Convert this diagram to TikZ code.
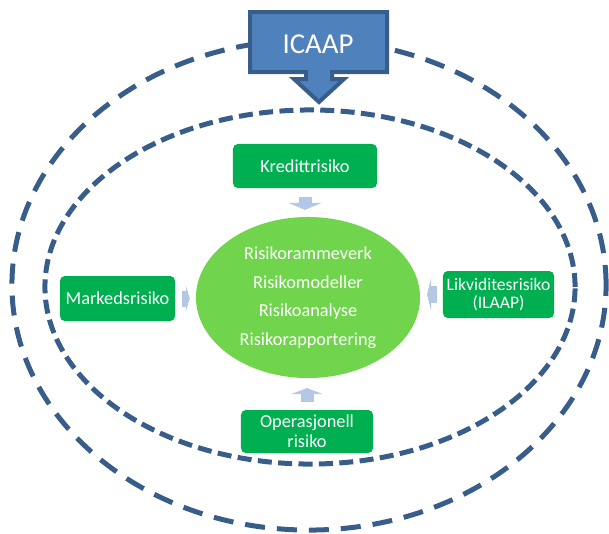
\documentclass[tikz,border=0pt]{standalone}
\usepackage{fontspec}
\setmainfont{Carlito}
\usepackage{tikz}
\usetikzlibrary{shapes.geometric, arrows.meta}

\definecolor{ringblue}{RGB}{56,93,138}
\definecolor{capfill}{RGB}{79,129,189}
\definecolor{riskgreen}{RGB}{0,176,80}
\definecolor{coregreen}{RGB}{112,212,76}
\definecolor{hintblue}{RGB}{180,199,231}

\tikzset{
	ringdash/.style={draw=ringblue, line width=0.125cm},
	riskbox/.style={fill=riskgreen, rounded corners=0.12cm, text=white, align=center,
		inner sep=0pt, font=\fontsize{13}{14}\selectfont},
	coreoval/.style={ellipse, fill=coregreen, text=white, align=center, inner sep=0pt,
		minimum width=5.6cm, minimum height=4.025cm, font=\fontsize{13}{20.3}\selectfont},
	hintarrow/.style={draw=hintblue, line width=#1},
}

\begin{document}
\begin{tikzpicture}[x=0.025cm, y=-0.025cm]
		\useasboundingbox (0,0) rectangle (609,533);
		
		% Dashed rings
		\draw[ringdash, dash pattern=on 0.5cm off 0.3cm] (309,285) ellipse [x radius=7.425cm, y radius=6.125cm];
		\draw[ringdash, dash pattern=on 0.35cm off 0.16cm] (310,287) ellipse [x radius=6.625cm, y radius=4.425cm];
		
		% ICAAP callout
		\draw[draw=ringblue, fill=capfill, line width=0.1cm, line join=miter]
			(250,12) -- (387,12) -- (387,72) -- (332,72) -- (332,79) -- (344,79) -- (319,102)
			-- (294,79) -- (306,79) -- (306,72) -- (250,72) -- cycle;
		\node[text=white, font=\fontsize{20.5}{24}\selectfont] (icaap) at (318,44) {ICAAP};
		
		% Core
		\node[coreoval] (core) at (308,297.5) {Risikorammeverk\\ Risikomodeller\\ Risikoanalyse\\ Risikorapportering};
		
		% Risk types
		\node[riskbox, minimum width=3.6cm, minimum height=1.1cm] (kreditt) at (305,166) {Kredittrisiko};
		\node[riskbox, minimum width=2.875cm, minimum height=1.125cm] (markeds) at (117.5,298.5) {Markedsrisiko};
		\node[riskbox, minimum width=2.775cm, minimum height=1.175cm, font=\fontsize{12.5}{12.8}\selectfont] (likvid) at (498.5,294.5) {Likviditesrisiko\\ (ILAAP)};
		\node[riskbox, minimum width=3.3cm, minimum height=1.075cm] (operasjonell) at (307,431.5) {Operasjonell\\ risiko};
		
		% Arrows to the core
		\path (kreditt.south) -- (kreditt.south |- core.north) coordinate[pos=0.31] (k1) coordinate[pos=0.76] (k2);
		\draw[hintarrow=0.325cm, -{Triangle[width=0.825cm, length=0.175cm]}] (k1) -- (k2);
		\path (markeds.east) -- (markeds.east -| core.west) coordinate[pos=0.33] (m1) coordinate[pos=0.71] (m2);
		\draw[hintarrow=0.4cm, -{Triangle[width=0.65cm, length=0.1cm]}] (m1) -- (m2);
		\path (likvid.west) -- (likvid.west -| core.east) coordinate[pos=0.26] (l1) coordinate[pos=0.70] (l2);
		\draw[hintarrow=0.425cm, -{Triangle[width=0.8cm, length=0.1cm]}] (l1) -- (l2);
		\path (operasjonell.north) -- (operasjonell.north |- core.south) coordinate[pos=0.25] (o1) coordinate[pos=0.69] (o2);
		\draw[hintarrow=0.325cm, -{Triangle[width=0.775cm, length=0.15cm]}] (o1) -- (o2);
		
	\end{tikzpicture}
\end{document}
